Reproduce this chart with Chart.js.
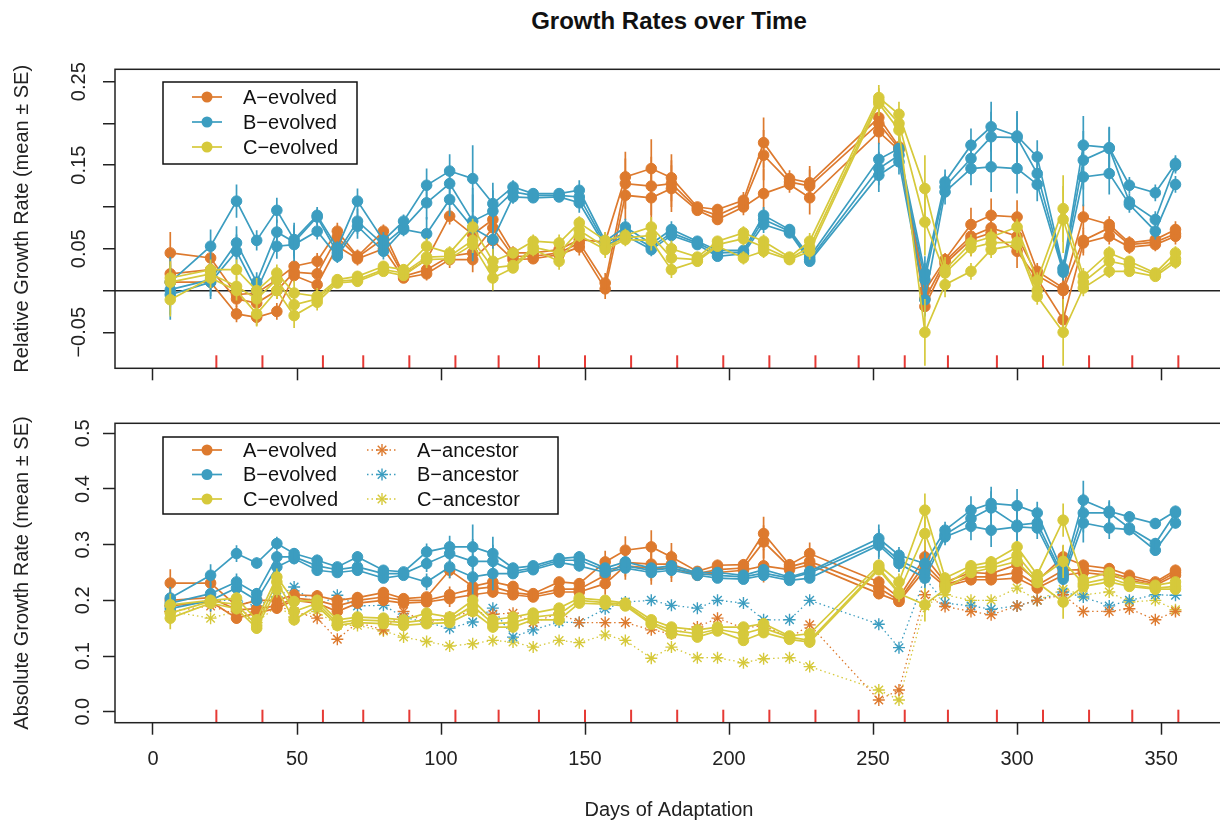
<!DOCTYPE html>
<html>
<head>
<meta charset="utf-8">
<script src="https://cdn.jsdelivr.net/npm/chart.js@4"></script>
<style>
html, body { margin: 0; padding: 0; background: #fff; overflow: hidden; width: 1220px; height: 824px; }
#title { position: absolute; left: 0; width: 1338px; top: 7px; line-height: 26px; text-align: center;
  font: bold 24px "Liberation Sans", Arial, sans-serif; color: #111; }
canvas { position: absolute; left: 0; }
</style>
</head>
<body>
<div id="title">Growth Rates over Time</div>
<canvas id="relChart" width="1240" height="400" style="top:0"></canvas>
<canvas id="absChart" width="1240" height="424" style="top:400px"></canvas>
<script>
// sampling days
const days = [6, 20, 29, 36, 43, 49, 57, 64, 71, 80, 87, 95, 103, 111, 118, 125, 132, 141, 148, 157,
  164, 173, 180, 189, 196, 205, 212, 221, 228, 252, 259, 268, 275, 284, 291, 300, 307, 316, 323, 332,
  339, 348, 355];
const redTickDays = [22, 38, 59, 73, 89, 105, 120, 134, 150, 166, 182, 198, 214, 230, 245, 261, 276, 293, 309, 325, 340, 356];

const evolvedNames = ["A\u2212evolved", "B\u2212evolved", "C\u2212evolved"];
const ancestorNames = ["A\u2212ancestor", "B\u2212ancestor", "C\u2212ancestor"];

// relative growth rate, 3 replicates per line
const relA1 = [.045,.039,-.005,-.003,.013,.029,.035,.071,.041,.071, .019,.037,.089,.067,.085,.045,.045,.049,.061,.058,
  .136,.146,.135,.100,.097,.108,.177,.134,.129,.207, .172,.000,.037,.079,.090,.088,.023,.003,.088,.079, .057,.061,.073];
const relA2 = [.020,.025,-.010,-.015,.000,.022,.020,.064,.040,.062, .017,.025,.041,.045,.075,.041,.041,.045,.057,.009,
  .128,.125,.128,.098,.090,.104,.162,.130,.125,.200, .170,-.010,.035,.065,.075,.065,.018,.000,.060,.075, .055,.058,.068];
const relA3 = [.010,.010,-.028,-.032,-.025,.018,.007,.053,.038,.050, .015,.020,.037,.037,.060,.037,.038,.043,.052,.002,
  .114,.111,.122,.096,.085,.100,.116,.127,.111,.190, .168,-.019,.032,.061,.069,.047,.014,-.035,.057,.065, .052,.055,.065];
const relB1 = [.010,.053,.107,.060,.096,.061,.090,.051,.107,.060, .083,.126,.143,.134,.104,.124,.116,.116,.120,.059,
  .076,.056,.073,.059,.048,.048,.090,.073,.040,.157, .170,.021,.130,.174,.196,.185,.160,.027,.174,.171, .126,.117,.152];
const relB2 = [.001,.013,.057,.010,.070,.058,.088,.045,.083,.055, .075,.105,.128,.083,.095,.118,.114,.114,.112,.056,
  .070,.052,.069,.057,.045,.046,.085,.071,.037,.146, .162,.013,.124,.158,.184,.183,.140,.025,.156,.170, .106,.085,.150];
const relB3 = [-.005,.010,.047,.000,.053,.055,.071,.041,.077,.047, .073,.068,.109,.075,.061,.112,.111,.112,.105,.053,
  .066,.049,.066,.055,.041,.044,.079,.069,.035,.138, .154,-.011,.118,.146,.148,.146,.127,.022,.136,.140, .103,.071,.127];
const relC1 = [.015,.025,.025,.000,.021,-.003,-.007,.013,.017,.029, .025,.053,.045,.076,.035,.045,.059,.057,.081,.060,
  .066,.076,.050,.040,.059,.069,.059,.040,.059,.231, .211,.122,.025,.057,.064,.076,.012,.098,.017,.045, .035,.021,.045];
const relC2 = [.010,.020,.005,-.010,.013,-.017,-.010,.011,.013,.025, .021,.040,.041,.060,.027,.030,.052,.045,.072,.052,
  .063,.066,.039,.037,.055,.062,.052,.038,.052,.227, .200,.082,.021,.051,.057,.058,.000,.085,.010,.035, .030,.019,.038];
const relC3 = [-.011,.015,.000,-.028,.000,-.030,-.014,.009,.011,.023, .018,.037,.038,.055,.015,.027,.049,.035,.066,.049,
  .061,.060,.025,.035,.053,.039,.047,.037,.047,.224, .192,-.050,.007,.023,.049,.055,-.007,-.050,.003,.023, .023,.017,.034];

const relSeA = [.025,.010,.010,.010,.010,.008,.010,.010,.008,.008, .006,.008,.010,.015,.020,.008,.006,.006,.010,.012,
  .030,.035,.028,.006,.006,.010,.030,.010,.020,.015, .010,.010,.008,.020,.020,.020,.010,.020,.015,.010, .008,.008,.010];
const relSeB = [.030,.020,.020,.012,.015,.020,.010,.008,.015,.010, .008,.020,.020,.040,.025,.008,.006,.006,.012,.008,
  .010,.008,.010,.006,.006,.006,.010,.006,.006,.020, .015,.020,.015,.020,.030,.030,.020,.010,.035,.025, .010,.010,.010];
const relSeC = [.020,.012,.012,.015,.010,.015,.010,.006,.006,.006, .006,.010,.008,.010,.015,.006,.008,.010,.008,.010,
  .008,.012,.010,.006,.006,.008,.008,.006,.010,.015, .015,.040,.015,.010,.010,.010,.010,.040,.010,.008, .006,.006,.008];

// absolute growth rate
const absA1 = [.231,.231,.190,.200,.200,.210,.208,.200,.205,.214, .203,.206,.254,.225,.233,.225,.212,.233,.230,.269,
  .290,.296,.278,.252,.263,.264,.320,.264,.284,.233, .205,.278,.233,.250,.248,.264,.235,.278,.263,.257, .245,.233,.254];
const absA2 = [.200,.205,.183,.185,.190,.204,.200,.190,.200,.206, .200,.200,.210,.220,.224,.214,.210,.220,.220,.245,
  .268,.265,.265,.248,.255,.258,.305,.260,.270,.222, .200,.265,.228,.242,.242,.250,.227,.254,.255,.250, .240,.230,.250];
const absA3 = [.190,.198,.168,.177,.186,.200,.195,.180,.195,.200, .195,.197,.203,.210,.215,.210,.206,.215,.215,.230,
  .262,.258,.258,.245,.250,.254,.262,.255,.264,.212, .198,.255,.225,.237,.237,.240,.222,.245,.250,.245, .236,.227,.245];
const absB1 = [.204,.245,.284,.267,.302,.284,.272,.260,.278,.254, .251,.287,.296,.296,.284,.258,.262,.275,.278,.258,
  .269,.258,.262,.250,.250,.245,.255,.242,.252,.311, .281,.266,.326,.362,.374,.370,.357,.249,.380,.360, .350,.338,.360];
const absB2 = [.195,.212,.233,.212,.278,.278,.262,.255,.260,.248, .248,.266,.284,.270,.270,.252,.258,.272,.272,.254,
  .262,.254,.258,.248,.245,.242,.249,.240,.249,.303, .272,.250,.318,.347,.366,.335,.339,.243,.357,.357, .330,.302,.357];
const absB3 = [.185,.200,.222,.200,.260,.275,.254,.250,.254,.240, .245,.233,.260,.242,.248,.248,.255,.268,.262,.250,
  .258,.250,.254,.245,.240,.238,.245,.236,.240,.299, .266,.240,.314,.333,.326,.332,.330,.238,.339,.330, .327,.290,.339];
const absC1 = [.192,.200,.204,.165,.242,.198,.200,.165,.170,.168, .165,.177,.170,.200,.165,.170,.177,.186,.204,.200,
  .195,.165,.152,.147,.152,.152,.158,.136,.140,.263, .233,.362,.240,.262,.269,.296,.246,.344,.237,.250, .233,.227,.233];
const absC2 = [.177,.198,.193,.155,.233,.180,.195,.159,.165,.163, .160,.165,.165,.190,.158,.160,.170,.175,.200,.196,
  .193,.160,.146,.140,.148,.140,.150,.134,.128,.258, .215,.320,.228,.257,.262,.281,.237,.270,.230,.240, .228,.222,.225];
const absC3 = [.168,.195,.185,.150,.220,.165,.190,.155,.160,.158, .155,.158,.160,.180,.152,.152,.165,.165,.195,.193,
  .190,.157,.140,.134,.145,.128,.142,.130,.125,.255, .212,.192,.220,.250,.258,.270,.232,.197,.225,.233, .225,.220,.220];

const absSeA = [.025,.010,.010,.010,.010,.010,.010,.010,.010,.010, .008,.008,.015,.010,.010,.008,.008,.008,.010,.020,
  .025,.030,.025,.008,.010,.010,.030,.010,.020,.010, .010,.030,.010,.010,.010,.010,.010,.020,.010,.010, .008,.008,.010];
const absSeB = [.020,.020,.015,.010,.012,.010,.010,.008,.010,.008, .008,.015,.020,.040,.030,.008,.008,.008,.010,.008,
  .008,.008,.008,.006,.006,.006,.008,.006,.008,.025, .015,.020,.015,.025,.030,.030,.020,.010,.035,.020, .010,.010,.010];
const absSeC = [.020,.010,.010,.010,.015,.010,.010,.008,.008,.008, .008,.008,.008,.010,.010,.008,.008,.008,.008,.008,
  .008,.008,.008,.006,.006,.008,.008,.006,.010,.010, .015,.030,.010,.010,.010,.010,.010,.030,.010,.008, .008,.008,.008];

const ancA = [.180,.190,.175,.180,.190,.180,.168,.130,.160,.147, .180,.160,.170,.180,.175,.177,.160,.177,.160,.160,
  .160,.147,.140,.152,.168,.150,.155,.132,.156,.021, .039,.210,.189,.180,.174,.190,.200,.210,.180,.180, .185,.165,.180];
const ancB = [.190,.200,.200,.190,.206,.224,.190,.209,.190,.191, .170,.160,.150,.161,.186,.134,.147,.161,.160,.185,
  .197,.200,.191,.186,.200,.195,.165,.165,.200,.157, .115,.240,.195,.190,.184,.190,.200,.215,.206,.190, .200,.210,.209];
const ancC = [.180,.168,.180,.160,.190,.170,.180,.155,.155,.145, .134,.126,.118,.122,.128,.125,.116,.128,.124,.138,
  .128,.096,.116,.097,.097,.088,.095,.097,.081,.039, .021,.190,.210,.200,.200,.222,.200,.220,.210,.215, .197,.200,.183];

const colA = "#dd7a2e", colB = "#3c9dc0", colC = "#d6c93b";
const FONT = '"Liberation Sans", Arial, sans-serif';
Chart.defaults.font.family = FONT;
Chart.defaults.font.size = 20;
Chart.defaults.color = "#222";

function evolved(reps, se, color, order) {
  return reps.map(r => ({
    data: days.map((d, i) => ({ x: d, y: r[i] })),
    se: se,
    borderColor: color,
    backgroundColor: color,
    pointBackgroundColor: color,
    pointBorderColor: color,
    borderWidth: 1.7,
    pointRadius: 5.3,
    pointBorderWidth: 1,
    order: order
  }));
}

function ancestor(vals, color) {
  return {
    data: days.map((d, i) => ({ x: d, y: vals[i] })),
    borderColor: color,
    backgroundColor: color,
    pointBorderColor: color,
    pointStyle: "star",
    pointRadius: 6,
    pointBorderWidth: 1.4,
    borderWidth: 1.3,
    borderDash: [1.5, 3],
    order: 4
  };
}

// error bars, drawn with each dataset
const errorBars = {
  id: "errorBars",
  afterDatasetDraw(chart, args) {
    const ds = chart.data.datasets[args.index];
    if (!ds.se) return;
    const { ctx, chartArea: ca, scales: { x, y } } = chart;
    ctx.save();
    ctx.beginPath();
    ctx.rect(ca.left, ca.top, ca.width, ca.height);
    ctx.clip();
    ctx.strokeStyle = ds.borderColor;
    ctx.lineWidth = 1.7;
    ds.data.forEach((p, i) => {
      const px = x.getPixelForValue(p.x);
      ctx.beginPath();
      ctx.moveTo(px, y.getPixelForValue(p.y - ds.se[i]));
      ctx.lineTo(px, y.getPixelForValue(p.y + ds.se[i]));
      ctx.stroke();
    });
    ctx.restore();
  }
};

// box round the plot, red marks for the transfer days
const frame = {
  id: "frame",
  afterDraw(chart) {
    const { ctx, chartArea: ca, scales: { x } } = chart;
    ctx.save();
    ctx.strokeStyle = "#e63a35";
    ctx.lineWidth = 2;
    redTickDays.forEach(d => {
      const px = x.getPixelForValue(d);
      ctx.beginPath();
      ctx.moveTo(px, ca.bottom);
      ctx.lineTo(px, ca.bottom - 13);
      ctx.stroke();
    });
    ctx.strokeStyle = "#222";
    ctx.lineWidth = 1.5;
    ctx.strokeRect(ca.left, ca.top, ca.width, ca.height);
    ctx.restore();
  }
};

const boxLegend = {
  id: "boxLegend",
  afterDraw(chart, args, o) {
    if (!o.columns) return;
    const { ctx, chartArea: ca } = chart;
    const x0 = ca.left + o.dx, y0 = ca.top + o.dy;
    ctx.save();
    ctx.fillStyle = "#fff";
    ctx.fillRect(x0, y0, o.w, o.h);
    ctx.strokeStyle = "#111";
    ctx.lineWidth = 1.5;
    ctx.strokeRect(x0, y0, o.w, o.h);
    ctx.font = "20px " + FONT;
    ctx.textBaseline = "middle";
    o.columns.forEach(col => {
      col.names.forEach((name, r) => {
        const cy = y0 + o.row0 + r * o.rowGap;
        const sx = x0 + col.sym;
        const c = col.colors[r];
        ctx.strokeStyle = c;
        ctx.fillStyle = c;
        ctx.lineWidth = col.star ? 1.3 : 1.7;
        ctx.setLineDash(col.star ? [1.5, 3] : []);
        ctx.beginPath();
        ctx.moveTo(sx - 15, cy);
        ctx.lineTo(sx + 15, cy);
        ctx.stroke();
        ctx.setLineDash([]);
        if (col.star) {
          ctx.lineWidth = 1.4;
          for (let k = 0; k < 4; k++) {
            const a = k * Math.PI / 4;
            ctx.beginPath();
            ctx.moveTo(sx - 6 * Math.cos(a), cy - 6 * Math.sin(a));
            ctx.lineTo(sx + 6 * Math.cos(a), cy + 6 * Math.sin(a));
            ctx.stroke();
          }
        } else {
          ctx.beginPath();
          ctx.arc(sx, cy, 5.5, 0, Math.PI * 2);
          ctx.fill();
        }
        ctx.fillStyle = "#111";
        ctx.fillText(name, x0 + col.text, cy + 1);
      });
    });
    ctx.restore();
  }
};

const xMin = -13.19, xMax = 371.5;

function yTitle(text) {
  return { display: true, text: text, font: { size: 20 }, color: "#222", padding: { top: 10 } };
}

new Chart(document.getElementById("relChart"), {
  type: "line",
  data: {
    datasets: [
      ...evolved([relA1, relA2, relA3], relSeA, colA, 3),
      ...evolved([relB1, relB2, relB3], relSeB, colB, 2),
      ...evolved([relC1, relC2, relC3], relSeC, colC, 1)
    ]
  },
  options: {
    responsive: false,
    animation: false,
    layout: { padding: { top: 69.3, right: 17, left: 0, bottom: 0 } },
    plugins: {
      legend: { display: false },
      tooltip: { enabled: false },
      boxLegend: {
        dx: 48, dy: 12.7, w: 194, h: 82, row0: 15, rowGap: 25,
        columns: [{ sym: 44, text: 80, names: evolvedNames, colors: [colA, colB, colC] }]
      }
    },
    scales: {
      x: {
        type: "linear", min: xMin, max: xMax,
        afterFit: s => { s.height = 31.7; },
        ticks: { display: false, stepSize: 50, includeBounds: false, autoSkip: false },
        grid: { drawOnChartArea: false, tickLength: 12, tickColor: "#222", tickWidth: 1.5 },
        border: { display: false }
      },
      y: {
        min: -0.0931, max: 0.2648,
        afterFit: s => { s.width = 115; },
        ticks: {
          stepSize: 0.05, includeBounds: false, autoSkip: false,
          minRotation: 90, maxRotation: 90, crossAlign: "center", padding: -2,
          callback: v => {
            const r = Math.round(v * 100);
            return r % 10 === 0 ? "" : (r / 100).toFixed(2).replace("-", "\u2212");
          }
        },
        grid: {
          color: c => (c.tick && Math.abs(c.tick.value) < 1e-9 ? "#222" : "rgba(0,0,0,0)"),
          lineWidth: 1.5, tickLength: 12, tickColor: "#222", tickWidth: 1.5
        },
        border: { display: false },
        title: yTitle("Relative Growth Rate (mean \u00b1 SE)")
      }
    }
  },
  plugins: [errorBars, frame, boxLegend]
});

new Chart(document.getElementById("absChart"), {
  type: "line",
  data: {
    datasets: [
      ...evolved([absA1, absA2, absA3], absSeA, colA, 3),
      ...evolved([absB1, absB2, absB3], absSeB, colB, 2),
      ...evolved([absC1, absC2, absC3], absSeC, colC, 1),
      ancestor(ancA, colA),
      ancestor(ancB, colB),
      ancestor(ancC, colC)
    ]
  },
  options: {
    responsive: false,
    animation: false,
    layout: { padding: { top: 23.3, right: 17, left: 0, bottom: 0 } },
    plugins: {
      legend: { display: false },
      tooltip: { enabled: false },
      boxLegend: {
        dx: 48, dy: 13.7, w: 395, h: 77, row0: 13, rowGap: 24.5,
        columns: [
          { sym: 44, text: 80, names: evolvedNames, colors: [colA, colB, colC] },
          { sym: 219, text: 254, names: ancestorNames, colors: [colA, colB, colC], star: true }
        ]
      }
    },
    scales: {
      x: {
        type: "linear", min: xMin, max: xMax,
        afterFit: s => { s.height = 101.3; },
        ticks: { stepSize: 50, includeBounds: false, autoSkip: false, padding: 13, maxRotation: 0 },
        grid: { drawOnChartArea: false, tickLength: 12, tickColor: "#222", tickWidth: 1.5 },
        border: { display: false },
        title: { display: true, text: "Days of Adaptation", font: { size: 20 }, color: "#222", padding: { top: 10, bottom: 2 } }
      },
      y: {
        min: -0.0198, max: 0.518,
        afterFit: s => { s.width = 115; },
        ticks: {
          stepSize: 0.1, includeBounds: false, autoSkip: false,
          minRotation: 90, maxRotation: 90, crossAlign: "center", padding: 6,
          callback: v => (Math.round(v * 10) / 10).toFixed(1)
        },
        grid: { drawOnChartArea: false, tickLength: 12, tickColor: "#222", tickWidth: 1.5 },
        border: { display: false },
        title: yTitle("Absolute Growth Rate (mean \u00b1 SE)")
      }
    }
  },
  plugins: [errorBars, frame, boxLegend]
});
</script>
</body>
</html>
